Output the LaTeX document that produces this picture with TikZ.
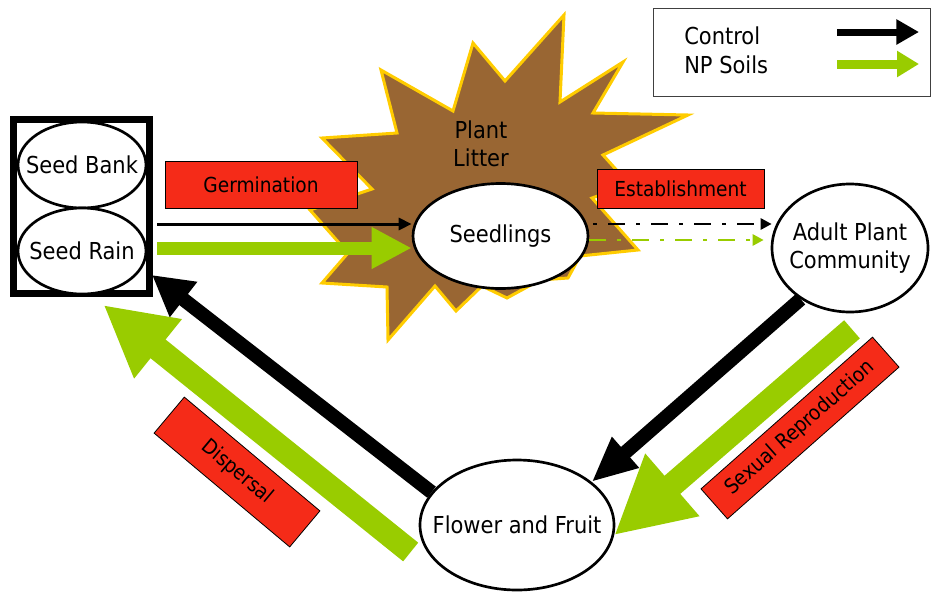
\documentclass[tikz,border=0pt]{standalone}
\usepackage{fontspec}
\setmainfont{DejaVu Sans Condensed}
\usepackage{tikz}
\usetikzlibrary{shapes.geometric,arrows.meta,calc}

\definecolor{litterbrown}{RGB}{153,102,51}
\definecolor{litteredge}{RGB}{255,204,0}
\definecolor{labelred}{RGB}{245,43,24}
\definecolor{npgreen}{RGB}{153,204,0}

\tikzset{
  stage/.style={ellipse, draw, fill=white, line width=2pt, inner sep=-40pt,
    align=center, font=\fontsize{17.5}{21}\selectfont},
  process/.style={rectangle, draw, fill=labelred, line width=0.6pt,
    inner sep=0pt, font=\fontsize{15.5}{18}\selectfont},
  legendtext/.style={anchor=west, inner sep=0pt, font=\fontsize{17.5}{21}\selectfont}
}

\begin{document}
\begin{tikzpicture}[x=0.75pt, y=-0.75pt]
    \useasboundingbox (0,0) rectangle (931,593);

    % Draw the plant litter burst
    \filldraw[fill=litterbrown, draw=litteredge, line width=2.25pt, line join=miter]
        (564,15) -- (560,102) -- (623,62) -- (593,113) -- (688,115) -- (603,155)
        -- (630,185) -- (592,198) -- (638,250) -- (580,256) -- (568,278)
        -- (540,280) -- (507,298) -- (482,286) -- (456,311) -- (435,286)
        -- (388,340) -- (387,287) -- (322,283) -- (348,253) -- (310,210)
        -- (372,189) -- (322,138) -- (397,133) -- (381,70) -- (453,111)
        -- (473,43) -- (505,81) -- cycle;
    \node[inner sep=0pt, align=center, font=\fontsize{17.5}{21}\selectfont] (litter) at (481,144) {Plant\\Litter};

    % Draw the seed pool and the life stages
    \node[draw, line width=5.25pt, minimum width=102pt, minimum height=130.5pt, inner sep=0pt] (frame) at (81.5,206.5) {};
    \node[stage, minimum width=96pt, minimum height=64.5pt] (bank) at (82,165) {Seed Bank};
    \node[stage, minimum width=96pt, minimum height=64.5pt] (rain) at (82,251) {Seed Rain};
    \node[stage, minimum width=131.25pt, minimum height=78.75pt] (seedlings) at (500.5,236) {Seedlings};
    \node[stage, minimum width=117pt, minimum height=96pt] (adult) at (850,248) {Adult Plant\\Community};
    \node[stage, minimum width=145.5pt, minimum height=97.5pt] (flower) at (517,525) {Flower and Fruit};

    % Draw the process labels
    \node[process, minimum width=144pt, minimum height=35.25pt] (germination) at (261,184.5) {Germination};
    \node[process, minimum width=125.25pt, minimum height=29.25pt] (establishment) at (680.5,188.5) {Establishment};
    \node[process, minimum width=171.75pt, minimum height=30pt, rotate=41.5] (sexual) at (800,428) {Sexual Reproduction};
    \node[process, minimum width=132.75pt, minimum height=35.25pt, rotate=-40] (dispersal) at (237,472) {Dispersal};

    % Germination
    \draw[black, line width=2.25pt, -{Triangle[length=9.75pt,width=9pt]}]
        ($(frame.east)+(4,17.5)$) -- ($(seedlings.west)+(0,-12)$);
    \draw[npgreen, line width=9.75pt, -{Triangle[length=30pt,width=29.25pt]}]
        ($(frame.east)+(4,41.5)$) -- ($(seedlings.west)+(0,12)$);

    % Establishment
    \draw[black, line width=2pt, dash pattern=on 3pt off 8.25pt on 12.75pt off 8.25pt,
        -{Triangle[length=8.25pt,width=8.25pt]}]
        ($(seedlings.east)+(4,-12)$) -- ($(adult.west)+(1,-24)$);
    \draw[npgreen, line width=2pt, dash pattern=on 12.75pt off 8.25pt on 3pt off 8.25pt,
        -{Triangle[length=8.25pt,width=8.25pt]}]
        ($(seedlings.east)+(0,4)$) -- ($(adult.west)+(-7,-8)$);

    % Sexual reproduction
    \draw[black, line width=10.5pt, -{Triangle[length=33.75pt,width=28.5pt]}]
        (adult.226) -- (flower.30);
    \draw[npgreen, line width=18pt, -{Triangle[length=57.75pt,width=57.75pt]}]
        ($(adult.south)+(2,16)$) -- (flower.-6);

    % Dispersal
    \draw[black, line width=10.5pt, -{Triangle[length=30pt,width=31.5pt]}]
        (flower.159) -- ($(frame.south east)+(-1,-22)$);
    \draw[npgreen, line width=18pt, -{Triangle[length=52.5pt,width=53.25pt]}]
        ($(flower.west)+(-8,27)$) -- ($(frame.south)+(22,8)$);

    % Draw the legend
    \node[draw=black!75, line width=0.8pt, minimum width=207.75pt, minimum height=66pt,
        inner sep=0pt, anchor=north west] (legend) at (653,8) {};
    \node[legendtext] (ctrltext) at (684,36) {Control};
    \node[legendtext] (nptext) at (684,65) {NP Soils};
    \coordinate (ctrlstart) at (837,32);
    \coordinate (ctrlend) at (919,32);
    \coordinate (npstart) at (837,64);
    \coordinate (npend) at (919,64);
    \draw[black, line width=5.25pt, -{Triangle[length=17pt,width=18pt]}] (ctrlstart) -- (ctrlend);
    \draw[npgreen, line width=6.75pt, -{Triangle[length=16.5pt,width=18.75pt]}] (npstart) -- (npend);
\end{tikzpicture}
\end{document}
